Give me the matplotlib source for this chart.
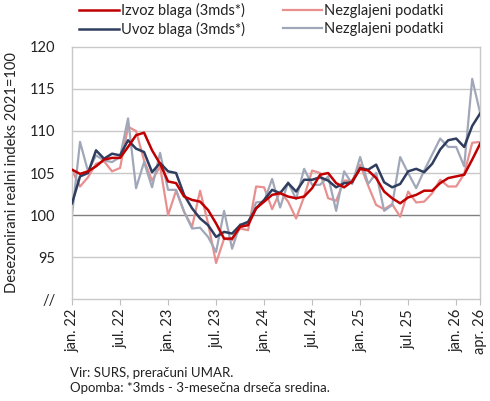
import matplotlib
matplotlib.use("Agg")
import matplotlib.pyplot as plt
import numpy as np
import pandas as pd

plt.rcParams['font.family'] = ['Lato', 'DejaVu Sans']

months = pd.date_range("2022-01-01", "2026-04-01", freq="MS")

izvoz_3mds = [105.4, 104.9, 105.2, 105.8, 106.6, 106.8, 106.8, 108.1, 109.5, 109.8,
              107.7, 106.1, 104.0, 103.8, 102.2, 101.8, 101.6, 100.6, 99.0, 97.2,
              97.2, 98.6, 98.8, 100.8, 101.6, 102.4, 102.6, 102.2, 102.0, 102.2,
              103.2, 104.8, 105.0, 103.8, 103.3, 104.0, 105.5, 105.3, 104.4, 102.8,
              102.0, 101.4, 102.1, 102.4, 102.9, 102.9, 103.8, 104.4, 104.6, 104.8,
              106.6, 108.5]
izvoz_raw = [105.3, 103.4, 104.5, 106.1, 106.4, 105.2, 105.6, 110.5, 110.0, 106.5,
             104.1, 105.8, 100.0, 102.9, 100.4, 98.6, 102.9, 99.0, 94.3, 97.2,
             97.0, 98.4, 98.2, 103.4, 103.3, 100.7, 102.8, 101.6, 99.6, 102.2,
             105.3, 105.0, 102.0, 101.7, 104.1, 104.1, 106.0, 103.5, 101.2, 100.7,
             101.3, 99.8, 102.8, 101.5, 101.6, 102.6, 104.2, 103.4, 103.4, 104.9,
             108.6, 108.7]
uvoz_3mds = [101.4, 104.6, 105.0, 107.7, 106.7, 107.3, 107.1, 108.9, 107.9, 107.5,
             105.1, 106.2, 105.2, 105.0, 102.4, 100.8, 99.6, 98.8, 97.4, 98.0,
             97.8, 98.8, 99.2, 100.8, 101.8, 103.0, 102.6, 103.8, 102.8, 104.2,
             104.2, 104.5, 104.1, 103.3, 103.8, 103.9, 105.6, 105.4, 106.0, 103.9,
             103.3, 103.7, 105.2, 105.5, 105.1, 106.1, 107.8, 108.9, 109.1, 108.1,
             110.6, 112.1]
uvoz_raw = [100.0, 108.7, 105.2, 107.1, 106.5, 106.3, 106.9, 111.5, 103.2, 106.3,
            103.3, 107.4, 103.0, 103.0, 100.4, 98.4, 98.5, 97.4, 95.6, 100.5,
            96.0, 98.9, 99.0, 101.5, 101.6, 104.3, 100.9, 103.9, 101.9, 105.5,
            103.6, 103.6, 104.6, 100.5, 105.2, 103.7, 106.9, 103.7, 105.0, 100.5,
            101.2, 106.9, 105.0, 103.2, 105.3, 107.2, 109.1, 108.1, 108.1, 105.8,
            116.2, 112.1]

tick_dates = ["2022-01", "2022-07", "2023-01", "2023-07", "2024-01", "2024-07",
              "2025-01", "2025-07", "2026-01", "2026-04"]
tick_labels = ["jan. 22", "jul. 22", "jan. 23", "jul. 23", "jan. 24", "jul. 24",
               "jan. 25", "jul. 25", "jan. 26", "apr. 26"]
y_ticks = [90, 95, 100, 105, 110, 115, 120]
y_labels = ["//", "95", "100", "105", "110", "115", "120"]

x = np.arange(len(months))
month_index = {m.strftime("%Y-%m"): i for i, m in enumerate(months)}
tick_pos = [month_index[d] for d in tick_dates]

fig = plt.figure(figsize=(4.9, 4.01), dpi=100)
ax = fig.add_axes([0.147, 0.254, 0.833, 0.629])

c_red = "#C00000"
c_pink = "#E8908F"
c_navy = "#2F3D5E"
c_gray = "#A0A7B8"

l3 = ax.plot(x, izvoz_raw, color=c_pink, lw=1.6, label="Nezglajeni podatki", zorder=2)
l4 = ax.plot(x, uvoz_raw, color=c_gray, lw=1.6, label="Nezglajeni podatki", zorder=2)
l1 = ax.plot(x, izvoz_3mds, color=c_red, lw=1.8, label="Izvoz blaga (3mds*)", zorder=4)
l2 = ax.plot(x, uvoz_3mds, color=c_navy, lw=1.8, label="Uvoz blaga (3mds*)", zorder=3)

ax.set_xlim(0, len(months) - 1)
ax.set_ylim(90, 120)
ax.set_yticks(y_ticks)
ax.set_yticklabels(y_labels)
ax.set_xticks(tick_pos)
ax.set_xticklabels(tick_labels, rotation=90)

for v in y_ticks[1:-1]:
    ax.axhline(v, color="#808080" if v == 100 else "#C8C8C8", lw=1.0, zorder=1)

for s in ax.spines.values():
    s.set_color("#C8C8C8")
    s.set_linewidth(1.0)

ax.tick_params(axis="y", length=0, labelsize=10.5, colors="#222222", pad=12)
ax.tick_params(axis="x", length=4, color="#BFBFBF", labelsize=10.5, labelcolor="#222222", pad=3)

ax.set_ylabel("Desezonirani realni indeks 2021=100", fontsize=10.5, color="#222222", labelpad=8)

handles = [l1[0], l2[0], l3[0], l4[0]]
labels = [h.get_label() for h in handles]
fig.legend(handles, labels, ncol=2, loc="upper left", bbox_to_anchor=(0.135, 1.025),
           frameon=False, fontsize=10.5, handlelength=2.7, handletextpad=0.15,
           columnspacing=2.6, labelspacing=0.25, labelcolor="#222222")

fig.text(0.143, 0.060, "Vir: SURS, preračuni UMAR.", fontsize=9.5, color="#222222")
fig.text(0.143, 0.022, "Opomba: *3mds - 3-mesečna drseča sredina.", fontsize=9.5, color="#222222")

fig.savefig("out.png", dpi=100)
